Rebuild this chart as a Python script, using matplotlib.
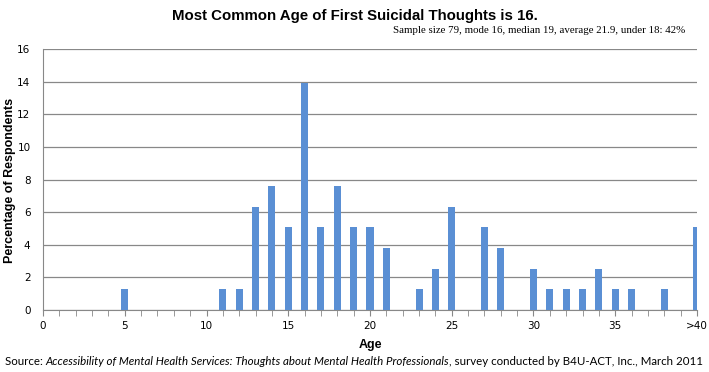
import matplotlib
matplotlib.use("Agg")
import matplotlib.pyplot as plt

# ages 0..40, the last one stands for ">40"
ages = list(range(41))
tick_labels = ["0", "5", "10", "15", "20", "25", "30", "35", ">40"]

# percentage of respondents per age
pct = {5: 1.27, 11: 1.27, 12: 1.27, 13: 6.33, 14: 7.59, 15: 5.06, 16: 13.92,
       17: 5.06, 18: 7.59, 19: 5.06, 20: 5.06, 21: 3.80, 23: 1.27, 24: 2.53,
       25: 6.33, 27: 5.06, 28: 3.80, 30: 2.53, 31: 1.27, 32: 1.27, 33: 1.27,
       34: 2.53, 35: 1.27, 36: 1.27, 38: 1.27, 40: 5.06}
values = [pct.get(a, 0) for a in ages]

bar_color = "#5a8fd4"
grid_color = "#888888"

fig = plt.figure(figsize=(7.09, 3.72), dpi=100)
ax = fig.add_axes([0.0607, 0.1667, 0.9223, 0.7013])

ax.bar(ages, values, width=0.43, color=bar_color, zorder=3)

ax.set_xlim(0, 40)
ax.set_ylim(0, 16)
ax.set_yticks(range(0, 17, 2))
ax.yaxis.grid(True, color=grid_color, linewidth=0.9)
ax.tick_params(axis="y", length=0, labelsize=7.5, pad=9)

ax.set_xticks(range(0, 41, 5))
ax.set_xticklabels(tick_labels)
ax.set_xticks(range(41), minor=True)
ax.tick_params(axis="x", which="both", direction="out", length=4,
               color=grid_color, labelsize=7.5, pad=4)

for s in ["top", "right"]:
    ax.spines[s].set_visible(False)
ax.spines["left"].set_color(grid_color)
ax.spines["bottom"].set_color(grid_color)

ax.set_xlabel("Age", fontsize=9, fontweight="bold", family="Liberation Sans", labelpad=6)
fig.text(0.014, 0.516, "Percentage of Respondents", rotation=90, ha="center",
         va="center", fontsize=9, fontweight="bold", family="Liberation Sans")

fig.text(0.5, 0.958, "Most Common Age of First Suicidal Thoughts is 16.",
         ha="center", va="center", fontsize=10.8, fontweight="bold",
         family="Liberation Sans")
fig.text(0.966, 0.917, "Sample size 79, mode 16, median 19, average 21.9, under 18: 42%",
         ha="right", va="center", fontsize=7.8, family="Liberation Serif")

# source line: plain, italic, plain pieces placed one after another
fig.canvas.draw()
renderer = fig.canvas.get_renderer()
x = 0.007
pieces = [("Source: ", "normal"),
          ("Accessibility of Mental Health Services: Thoughts about Mental Health Professionals", "italic"),
          (", survey conducted by B4U-ACT, Inc., March 2011", "normal")]
for txt, st in pieces:
    t = fig.text(x, 0.027, txt, ha="left", va="center", fontsize=8.3,
                 family="Lato", style=st)
    bb = t.get_window_extent(renderer=renderer)
    x += bb.width / fig.bbox.width

fig.savefig("out.png", dpi=100)
